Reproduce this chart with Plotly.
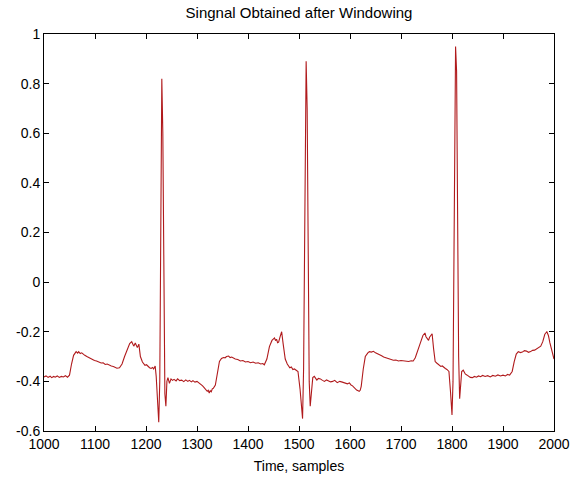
import plotly.graph_objects as go

title_text = "Singnal Obtained after Windowing"
x_label = "Time, samples"

samples = [
    1000, 1004, 1008, 1012, 1015, 1019, 1022, 1026, 1030, 1034, 1038, 1042, 1046, 1050, 1054, 1058,
    1063, 1066, 1068, 1071, 1074, 1077, 1080, 1084, 1088, 1092, 1095, 1099, 1103, 1107, 1112, 1116,
    1120, 1124, 1128, 1132, 1136, 1140, 1143, 1148, 1153, 1158, 1163, 1168, 1172, 1176, 1179, 1183,
    1186, 1189, 1193, 1196, 1198, 1201, 1204, 1207, 1210, 1213, 1215, 1218, 1220, 1223, 1225, 1227,
    1229, 1231, 1233, 1235, 1237, 1239, 1241, 1243, 1246, 1249, 1252, 1255, 1259, 1262, 1266, 1270,
    1274, 1278, 1282, 1285, 1289, 1292, 1296, 1300, 1304, 1308, 1311, 1314, 1317, 1320, 1322, 1324,
    1326, 1328, 1330, 1332, 1336, 1340, 1344, 1348, 1352, 1355, 1358, 1362, 1365, 1368, 1372, 1375,
    1380, 1385, 1390, 1395, 1400, 1405, 1410, 1415, 1420, 1425, 1429, 1432, 1437, 1442, 1447, 1450,
    1452, 1454, 1456, 1458, 1460, 1463, 1466, 1469, 1473, 1477, 1480, 1482, 1485, 1488, 1491, 1494,
    1498, 1502, 1505, 1507, 1509, 1511, 1514, 1516, 1518, 1520, 1522, 1524, 1527, 1530, 1533, 1535,
    1538, 1542, 1546, 1550, 1554, 1558, 1562, 1566, 1570, 1575, 1580, 1585, 1590, 1595, 1599, 1602,
    1605, 1608, 1611, 1613, 1616, 1618, 1620, 1622, 1626, 1630, 1635, 1638, 1642, 1646, 1650, 1654,
    1658, 1662, 1666, 1670, 1675, 1680, 1685, 1690, 1695, 1700, 1705, 1710, 1715, 1720, 1724, 1728,
    1733, 1738, 1743, 1745, 1747, 1749, 1751, 1754, 1756, 1758, 1761, 1764, 1767, 1770, 1772, 1775,
    1778, 1781, 1784, 1787, 1790, 1794, 1797, 1800, 1802, 1804, 1807, 1809, 1811, 1813, 1815, 1817,
    1819, 1822, 1826, 1829, 1832, 1836, 1840, 1844, 1848, 1852, 1856, 1860, 1865, 1870, 1875, 1880,
    1885, 1890, 1895, 1900, 1905, 1909, 1913, 1918, 1922, 1926, 1930, 1934, 1938, 1942, 1946, 1950,
    1954, 1958, 1962, 1965, 1968, 1971, 1974, 1978, 1982, 1986, 1989, 1992, 1996, 2000,
]

amplitude = [
    -0.382, -0.378, -0.384, -0.379, -0.385, -0.380, -0.383, -0.378, -0.384, -0.380, -0.382, -0.377,
    -0.383, -0.375, -0.330, -0.295, -0.280, -0.286, -0.280, -0.288, -0.285, -0.292, -0.295, -0.300,
    -0.305, -0.309, -0.312, -0.316, -0.318, -0.322, -0.326, -0.325, -0.332, -0.330, -0.335, -0.338,
    -0.340, -0.344, -0.347, -0.345, -0.330, -0.300, -0.270, -0.248, -0.240, -0.258, -0.245, -0.264,
    -0.250, -0.300, -0.322, -0.330, -0.335, -0.333, -0.340, -0.345, -0.348, -0.344, -0.350, -0.338,
    -0.380, -0.500, -0.565, -0.400, 0.200, 0.820, 0.600, -0.100, -0.450, -0.500, -0.400, -0.385,
    -0.408, -0.390, -0.396, -0.392, -0.398, -0.390, -0.397, -0.395, -0.401, -0.394, -0.400, -0.396,
    -0.402, -0.397, -0.403, -0.400, -0.406, -0.410, -0.418, -0.425, -0.432, -0.440, -0.436, -0.447,
    -0.438, -0.442, -0.430, -0.428, -0.415, -0.370, -0.320, -0.308, -0.304, -0.305, -0.300, -0.298,
    -0.304, -0.302, -0.308, -0.310, -0.312, -0.318, -0.316, -0.322, -0.320, -0.325, -0.322, -0.327,
    -0.325, -0.330, -0.328, -0.333, -0.310, -0.260, -0.235, -0.228, -0.225, -0.236, -0.230, -0.244,
    -0.242, -0.220, -0.200, -0.250, -0.310, -0.330, -0.338, -0.345, -0.342, -0.352, -0.350, -0.356,
    -0.360, -0.430, -0.520, -0.550, -0.350, 0.300, 0.890, 0.700, 0.100, -0.400, -0.500, -0.450,
    -0.385, -0.380, -0.392, -0.395, -0.388, -0.390, -0.396, -0.400, -0.394, -0.398, -0.402, -0.400,
    -0.396, -0.405, -0.400, -0.403, -0.407, -0.410, -0.406, -0.415, -0.418, -0.425, -0.430, -0.435,
    -0.438, -0.440, -0.436, -0.420, -0.350, -0.300, -0.285, -0.280, -0.282, -0.279, -0.285, -0.288,
    -0.292, -0.297, -0.302, -0.305, -0.308, -0.312, -0.315, -0.314, -0.318, -0.316, -0.318, -0.321,
    -0.320, -0.317, -0.318, -0.305, -0.270, -0.245, -0.215, -0.210, -0.205, -0.220, -0.225, -0.235,
    -0.222, -0.215, -0.208, -0.270, -0.320, -0.326, -0.330, -0.336, -0.340, -0.338, -0.345, -0.348,
    -0.352, -0.360, -0.440, -0.535, -0.400, 0.300, 0.950, 0.850, 0.200, -0.300, -0.470, -0.420,
    -0.360, -0.355, -0.370, -0.374, -0.380, -0.384, -0.385, -0.380, -0.383, -0.378, -0.381, -0.376,
    -0.380, -0.377, -0.382, -0.376, -0.379, -0.374, -0.378, -0.375, -0.378, -0.372, -0.375, -0.360,
    -0.320, -0.290, -0.280, -0.284, -0.282, -0.276, -0.278, -0.283, -0.280, -0.275, -0.274, -0.270,
    -0.268, -0.264, -0.258, -0.240, -0.210, -0.200, -0.215, -0.245, -0.280, -0.310,
]

x_ticks = [1000, 1100, 1200, 1300, 1400, 1500, 1600, 1700, 1800, 1900, 2000]
y_ticks = [-0.6, -0.4, -0.2, 0, 0.2, 0.4, 0.6, 0.8, 1]
y_tick_labels = ["-0.6", "-0.4", "-0.2", "0", "0.2", "0.4", "0.6", "0.8", "1"]

fig = go.Figure()
fig.add_trace(go.Scatter(
    x=samples, y=amplitude, mode="lines",
    line=dict(color="#b01a1c", width=1.1),
    showlegend=False,
))

font_family = "Liberation Sans, Arial, sans-serif"

fig.update_layout(
    width=571, height=477,
    margin=dict(l=44, r=17, t=34, b=46),
    paper_bgcolor="white", plot_bgcolor="white",
    font=dict(family=font_family, size=14, color="black"),
    title=dict(text=title_text, x=(44 + 554) / 2 / 571, xanchor="center",
               y=1 - 13 / 477, yanchor="middle",
               font=dict(size=15, family=font_family, color="black")),
)

fig.update_xaxes(
    range=[1000, 2000], tickvals=x_ticks, ticktext=[str(v) for v in x_ticks],
    ticks="inside", ticklen=5, tickcolor="black", mirror="ticks",
    showline=True, linecolor="black", linewidth=1, showgrid=False, zeroline=False,
    automargin=False,
    title=dict(text=x_label, standoff=10, font=dict(size=14)),
    tickfont=dict(size=14),
)
fig.update_yaxes(
    range=[-0.6, 1], tickvals=y_ticks, ticktext=y_tick_labels,
    ticks="inside", ticklen=5, tickcolor="black", mirror="ticks",
    showline=True, linecolor="black", linewidth=1, showgrid=False, zeroline=False,
    automargin=False,
    tickfont=dict(size=14),
)

fig.write_html("out.html")
